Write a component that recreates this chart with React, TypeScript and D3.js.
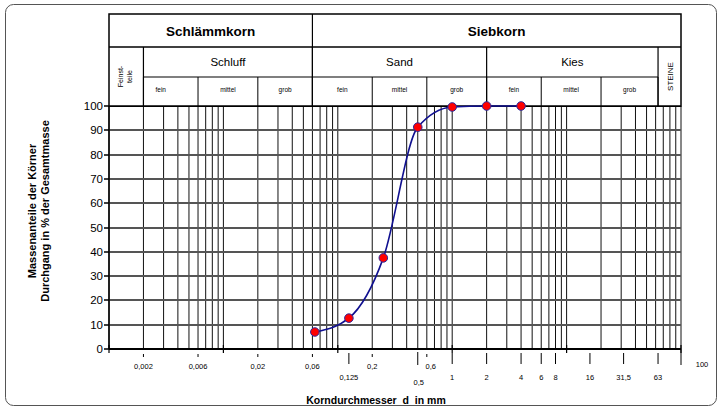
import React from "react";
import * as d3 from "d3";

// ---- data ----
const sieveSizes = [0.063, 0.125, 0.25, 0.5, 1, 2, 4];
const passingPct = [7, 12.7, 37.5, 91.3, 99.6, 100, 100];

const yTicks = [0, 10, 20, 30, 40, 50, 60, 70, 80, 90, 100];

const xTickValues = [0.002, 0.006, 0.02, 0.06, 0.125, 0.2, 0.5, 0.6, 1, 2, 4, 6, 8, 16, 31.5, 63, 100];
const xTickLabels = ["0,002", "0,006", "0,02", "0,06", "0,125", "0,2", "0,5", "0,6", "1", "2", "4", "6", "8", "16", "31,5", "63", "100"];

const mainGroups = ["Schlämmkorn", "Siebkorn"];
const mainBounds = [0.001, 0.06, 100];
const soilGroups = ["Schluff", "Sand", "Kies"];
const soilBounds = [0.002, 0.06, 2, 63];
const subGroups = ["fein", "mittel", "grob", "fein", "mittel", "grob", "fein", "mittel", "grob"];
const subBounds = [0.002, 0.006, 0.02, 0.06, 0.2, 0.6, 2, 6, 20, 63];

const decades = [0.001, 0.01, 0.1, 1, 10];

export default function App() {
  const W = 721, H = 410;
  const X0 = 109, X1 = 681;
  const Y0 = 349, Y1 = 106;
  const hTop = 14, hR1 = 47, hR2 = 77, hBot = 106;

  const x = d3.scaleLog().domain([0.001, 100]).range([X0, X1]);
  const y = d3.scaleLinear().domain([0, 100]).range([Y0, Y1]);

  const gridX: number[] = [];
  decades.forEach((d) => {
    for (let k = 1; k <= 9; k++) gridX.push(k * d);
  });
  gridX.push(100);

  const pts = sieveSizes.map((s, i) => ({ s, p: passingPct[i] }));
  const line = d3
    .line<{ s: number; p: number }>()
    .x((d) => x(d.s))
    .y((d) => y(d.p))
    .curve(d3.curveMonotoneX);

  const font = "'Liberation Sans', Arial, sans-serif";
  const row1Ticks = new Set(["0,002", "0,006", "0,02", "0,06", "0,2", "0,6"]);
  const hGrid = yTicks.slice(1, yTicks.length - 1);

  return (
    <svg
      width={W}
      height={H}
      style={{ position: "absolute", left: 0, top: 0, background: "#fff" }}
      fontFamily={font}
    >
      <rect x={5.5} y={4.5} width={711} height={401} rx={8} fill="#fff" stroke="#555" strokeWidth={1} />

      {gridX.map((v, i) => (
        <line key={"v" + i} x1={x(v)} x2={x(v)} y1={Y1} y2={Y0} stroke="#111" strokeWidth={1} />
      ))}

      {hGrid.map((t) => (
        <line key={"h" + t} x1={X0} x2={X1} y1={Math.round(y(t))} y2={Math.round(y(t))} stroke="#555555" strokeWidth={2} />
      ))}

      <line x1={X0} x2={X0} y1={Y1} y2={Y0} stroke="#000" strokeWidth={1.5} />
      <line x1={X0} x2={X1} y1={Y0} y2={Y0} stroke="#000" strokeWidth={1.8} />
      <line x1={X0} x2={X1} y1={Y1} y2={Y1} stroke="#000" strokeWidth={2} />

      {yTicks.map((t) => (
        <g key={"yt" + t}>
          <line x1={X0 - 5} x2={X0} y1={Math.round(y(t))} y2={Math.round(y(t))} stroke="#000" strokeWidth={1.5} />
          <text x={X0 - 6} y={y(t) + 4} textAnchor="end" fontSize={11.5} fill="#000">
            {t}
          </text>
        </g>
      ))}

      {[...decades, 100].map((d) => (
        <line key={"dt" + d} x1={x(d)} x2={x(d)} y1={Y0 - 4} y2={Y0 + 4} stroke="#000" strokeWidth={1.2} />
      ))}

      {xTickValues.map((v, i) => {
        const lab = xTickLabels[i];
        const px = x(v);
        if (lab === "100") {
          return (
            <g key={"xt" + i}>
              <line x1={px} x2={px} y1={Y0} y2={Y0 + 16} stroke="#000" strokeWidth={1} />
              <text x={px + 21} y={Y0 + 18} textAnchor="middle" fontSize={7.5} fill="#000">{lab}</text>
            </g>
          );
        }
        if (lab === "0,5") {
          return (
            <g key={"xt" + i}>
              <line x1={px} x2={px} y1={Y0 + 3} y2={Y0 + 16} stroke="#000" strokeWidth={1} />
              <text x={px + 1} y={Y0 + 36} textAnchor="middle" fontSize={7.5} fill="#000">{lab}</text>
            </g>
          );
        }
        if (row1Ticks.has(lab)) {
          const dx = lab === "0,6" ? 4 : 0;
          return (
            <g key={"xt" + i}>
              <line x1={px} x2={px} y1={Y0 + 5} y2={Y0 + 8} stroke="#000" strokeWidth={1} />
              <text x={px + dx} y={Y0 + 20} textAnchor="middle" fontSize={7.5} fill="#000">{lab}</text>
            </g>
          );
        }
        return (
          <g key={"xt" + i}>
            <line x1={px} x2={px} y1={Y0 + 4} y2={Y0 + 15} stroke="#000" strokeWidth={1} />
            <text x={px} y={Y0 + 31} textAnchor="middle" fontSize={7.5} fill="#000">{lab}</text>
          </g>
        );
      })}

      <rect x={X0} y={hTop} width={X1 - X0} height={hBot - hTop} fill="#fff" stroke="#000" strokeWidth={1.5} />
      <line x1={X0} x2={X1} y1={hR1} y2={hR1} stroke="#000" strokeWidth={1.5} />
      <line x1={x(soilBounds[0])} x2={x(soilBounds[soilBounds.length - 1])} y1={hR2} y2={hR2} stroke="#000" strokeWidth={1.2} />
      <line x1={x(mainBounds[1])} x2={x(mainBounds[1])} y1={hTop} y2={hBot} stroke="#000" strokeWidth={1.2} />
      {soilBounds.map((b, i) => (
        <line key={"sb" + i} x1={x(b)} x2={x(b)} y1={hR1} y2={hBot} stroke="#000" strokeWidth={1.2} />
      ))}
      {subBounds.map((b, i) => (
        <line key={"ub" + i} x1={x(b)} x2={x(b)} y1={hR2} y2={hBot} stroke="#000" strokeWidth={1} />
      ))}
      {mainGroups.map((g, i) => (
        <text key={"mg" + i} x={(x(mainBounds[i]) + x(mainBounds[i + 1])) / 2} y={36} textAnchor="middle" fontSize={13.5} fontWeight="bold" fill="#000">
          {g}
        </text>
      ))}
      {soilGroups.map((g, i) => (
        <text key={"sg" + i} x={(x(soilBounds[i]) + x(soilBounds[i + 1])) / 2} y={66} textAnchor="middle" fontSize={11.5} fill="#000">
          {g}
        </text>
      ))}
      {subGroups.map((g, i) => {
        const cx = (x(subBounds[i]) + x(subBounds[i + 1])) / 2 - (i === 0 ? 10 : 0);
        return (
          <text key={"ug" + i} x={cx} y={92} textAnchor="middle" fontSize={6.5} fill="#000">
            {g}
          </text>
        );
      })}
      <text transform={`translate(${(X0 + x(0.002)) / 2 - 3},${(hR1 + hBot) / 2}) rotate(-90)`} textAnchor="middle" fontSize={7} fill="#000">
        Feinst-
      </text>
      <text transform={`translate(${(X0 + x(0.002)) / 2 + 6},${(hR1 + hBot) / 2}) rotate(-90)`} textAnchor="middle" fontSize={7} fill="#000">
        teile
      </text>
      <text transform={`translate(${(x(63) + X1) / 2 + 3},${(hR1 + hBot) / 2}) rotate(-90)`} textAnchor="middle" fontSize={8} fill="#000">
        STEINE
      </text>

      <path d={line(pts) || ""} fill="none" stroke="#101090" strokeWidth={1.6} />
      {pts.map((d, i) => (
        <circle key={"p" + i} cx={x(d.s)} cy={y(d.p)} r={4.3} fill="#ff0000" stroke="#2a2aa0" strokeWidth={1} />
      ))}

      <text transform={`translate(36,211) rotate(-90)`} textAnchor="middle" fontSize={11} fontWeight="bold" fill="#000">
        Massenanteile der Körner
      </text>
      <text transform={`translate(49,211) rotate(-90)`} textAnchor="middle" fontSize={11} fontWeight="bold" fill="#000">
        Durchgang in % der Gesamtmasse
      </text>
      <text x={376} y={404} textAnchor="middle" fontSize={10.5} fontWeight="bold" fill="#000" style={{ whiteSpace: "pre" }}>
        {"Korndurchmesser  d  in mm"}
      </text>
    </svg>
  );
}
